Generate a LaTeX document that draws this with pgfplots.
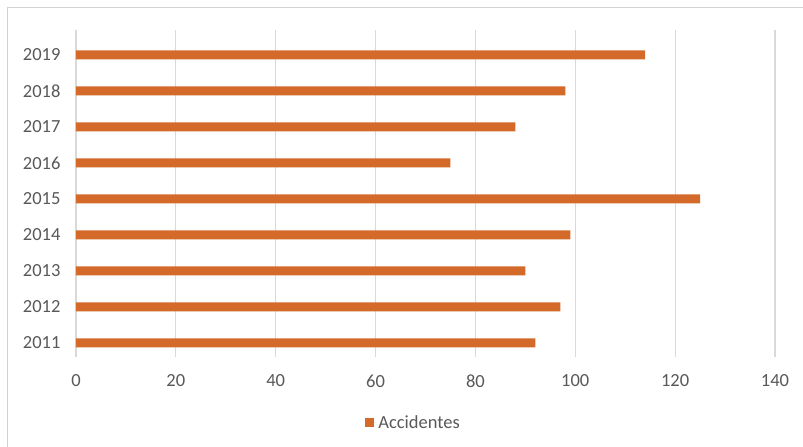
\documentclass[border=0pt]{standalone}
\usepackage{pgfplots}
\pgfplotsset{compat=1.18}
\usepackage{fontspec}
\setmainfont{Carlito}
\definecolor{barc}{RGB}{212,106,42}
\definecolor{txt}{RGB}{89,89,89}
\definecolor{gridc}{RGB}{217,217,217}
\definecolor{framec}{RGB}{210,210,210}
\begin{document}
\begin{tikzpicture}[x=1pt,y=1pt]
\path[use as bounding box] (0,0) rectangle (803,447);
\fill[white] (0,0) rectangle (803,447);
\draw[framec, line width=1pt] (7,0) -- (7,439) -- (803,439);
\begin{axis}[
  at={(76pt,90pt)}, anchor=south west,
  scale only axis, width=699pt, height=327pt,
  xbar, bar width=9pt,
  xmin=0, xmax=140, xtick={0,20,...,140},
  ymin=-0.39, ymax=8.69,
  ytick={0,...,8},
  yticklabels={2011,2012,2013,2014,2015,2016,2017,2018,2019},
  axis line style={draw=none},
  major tick length=0pt,
  xmajorgrids, ymajorgrids=false,
  major grid style={draw=gridc, line width=1.2pt},
  tick label style={font=\fontsize{18.5}{22}\selectfont, text=txt},
  xticklabel style={yshift=-14pt},
  yticklabel style={xshift=-12pt},
  /pgf/number format/assume math mode=true,
  legend style={at={(0.483,-0.2018)}, anchor=center, draw=none,
    font=\fontsize{18.5}{22}\selectfont, text=txt},
  legend image code/.code={\fill[barc] (0pt,-4.5pt) rectangle (9pt,4.5pt);
    \path (0pt,0pt) -- (11pt,0pt);},
]
\addplot[fill=barc, draw=none] coordinates {
(92,0) (97,1) (90,2) (99,3) (125,4) (75,5) (88,6) (98,7) (114,8)};
\addlegendentry{Accidentes}
\end{axis}
\end{tikzpicture}
\end{document}
